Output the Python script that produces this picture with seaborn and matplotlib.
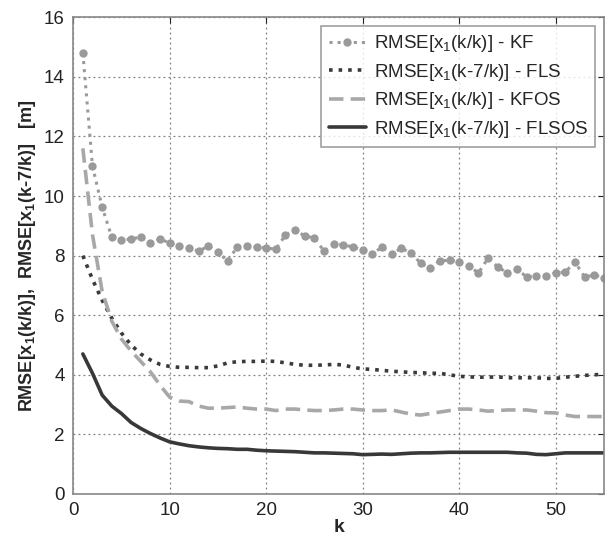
import numpy as np
import pandas as pd
import matplotlib
matplotlib.use("Agg")
import matplotlib.pyplot as plt
import seaborn as sns

k = np.arange(1, 56)

# RMSE[x1(k/k)] - KF
kf = [14.8, 11.0, 9.63, 8.62, 8.52, 8.56, 8.62, 8.42, 8.56, 8.42,
      8.32, 8.25, 8.15, 8.32, 8.12, 7.82, 8.29, 8.32, 8.29, 8.25,
      8.22, 8.69, 8.86, 8.66, 8.59, 8.15, 8.39, 8.36, 8.29, 8.19,
      8.05, 8.29, 8.05, 8.25, 8.09, 7.75, 7.58, 7.82, 7.85, 7.79,
      7.65, 7.42, 7.92, 7.62, 7.42, 7.55, 7.28, 7.32, 7.32, 7.42,
      7.45, 7.79, 7.28, 7.35, 7.25]

# RMSE[x1(k-7/k)] - FLS
fls = [8.0, 7.2, 6.5, 5.9, 5.4, 5.0, 4.7, 4.5, 4.35, 4.28,
       4.25, 4.25, 4.24, 4.24, 4.3, 4.4, 4.44, 4.45, 4.45, 4.46,
       4.45, 4.4, 4.35, 4.32, 4.32, 4.33, 4.35, 4.33, 4.25, 4.2,
       4.18, 4.15, 4.12, 4.1, 4.08, 4.07, 4.05, 4.05, 4.0, 3.95,
       3.93, 3.92, 3.92, 3.93, 3.9, 3.9, 3.9, 3.9, 3.88, 3.88,
       3.92, 3.95, 3.98, 4.0, 4.02]

# RMSE[x1(k/k)] - KFOS
kfos = [11.6, 8.7, 6.8, 5.8, 5.2, 4.8, 4.45, 4.1, 3.65, 3.25,
        3.12, 3.1, 2.95, 2.88, 2.88, 2.9, 2.92, 2.88, 2.85, 2.85,
        2.8, 2.85, 2.85, 2.82, 2.8, 2.8, 2.82, 2.85, 2.85, 2.82,
        2.8, 2.8, 2.82, 2.75, 2.68, 2.65, 2.7, 2.75, 2.8, 2.85,
        2.85, 2.82, 2.78, 2.8, 2.82, 2.82, 2.82, 2.78, 2.73, 2.72,
        2.65, 2.6, 2.6, 2.6, 2.6]

# RMSE[x1(k-7/k)] - FLSOS
flsos = [4.7, 4.05, 3.32, 2.95, 2.7, 2.4, 2.2, 2.03, 1.88, 1.75,
         1.68, 1.62, 1.58, 1.55, 1.53, 1.52, 1.5, 1.5, 1.47, 1.45,
         1.44, 1.43, 1.42, 1.4, 1.38, 1.38, 1.37, 1.36, 1.35, 1.32,
         1.33, 1.34, 1.33, 1.35, 1.37, 1.38, 1.38, 1.39, 1.4, 1.4,
         1.4, 1.4, 1.4, 1.4, 1.4, 1.38, 1.37, 1.33, 1.32, 1.35,
         1.38, 1.38, 1.38, 1.38, 1.38]

labels = [r"RMSE[x$_1$(k/k)] - KF",
          r"RMSE[x$_1$(k-7/k)] - FLS",
          r"RMSE[x$_1$(k/k)] - KFOS",
          r"RMSE[x$_1$(k-7/k)] - FLSOS"]

sns.set_style("white")
plt.rcParams['font.family'] = ['Liberation Sans', 'DejaVu Sans']
plt.rcParams['mathtext.fontset'] = 'custom'
plt.rcParams['mathtext.rm'] = 'Liberation Sans'
plt.rcParams['mathtext.it'] = 'Liberation Sans'
plt.rcParams['mathtext.bf'] = 'Liberation Sans:bold'

fig = plt.figure(figsize=(6.1, 5.39), dpi=100)
ax = fig.add_axes([0.12, 0.0835, 0.87, 0.8845])

df = pd.DataFrame({"k": k, "KF": kf, "FLS": fls, "KFOS": kfos, "FLSOS": flsos})

sns.lineplot(data=df, x="k", y="KF", ax=ax, color="#9a9a9a", linestyle=":",
             linewidth=2.2, marker="o", markersize=6, markeredgewidth=0,
             label=labels[0])
sns.lineplot(data=df, x="k", y="FLS", ax=ax, color="#3a3a3a", linestyle=":",
             linewidth=2.6, label=labels[1])
sns.lineplot(data=df, x="k", y="KFOS", ax=ax, color="#a8a8a8", linestyle=(0, (4, 2)),
             linewidth=2.6, label=labels[2])
sns.lineplot(data=df, x="k", y="FLSOS", ax=ax, color="#383838", linestyle="-",
             linewidth=2.6, label=labels[3])

ax.set_xlim(0, 55)
ax.set_ylim(0, 16)
ax.set_xticks(range(0, 60, 10))
ax.set_yticks(range(0, 18, 2))
ax.grid(True, linestyle=(0, (1.5, 2.5)), color="#808080", linewidth=0.9)
ax.tick_params(direction="in", length=4, labelsize=13.5, colors="#222222",
               top=True, right=True, pad=6)
for s in ax.spines.values():
    s.set_color("#888888")
    s.set_linewidth(1.2)

ax.set_xlabel("k", fontsize=14, fontweight="bold", labelpad=0)
ax.set_ylabel(r"RMSE[x$\mathbf{_1}$(k/k)],  RMSE[x$\mathbf{_1}$(k-7/k)]   [m]",
              fontsize=13, fontweight="bold", labelpad=4)

leg = ax.legend(loc="upper right", fontsize=13.5, frameon=True, fancybox=False,
                edgecolor="#888888", handlelength=2.0, borderaxespad=0.45,
                labelspacing=0.4, handletextpad=0.4)
leg.get_frame().set_linewidth(1.2)

fig.savefig("out.png", dpi=100)
